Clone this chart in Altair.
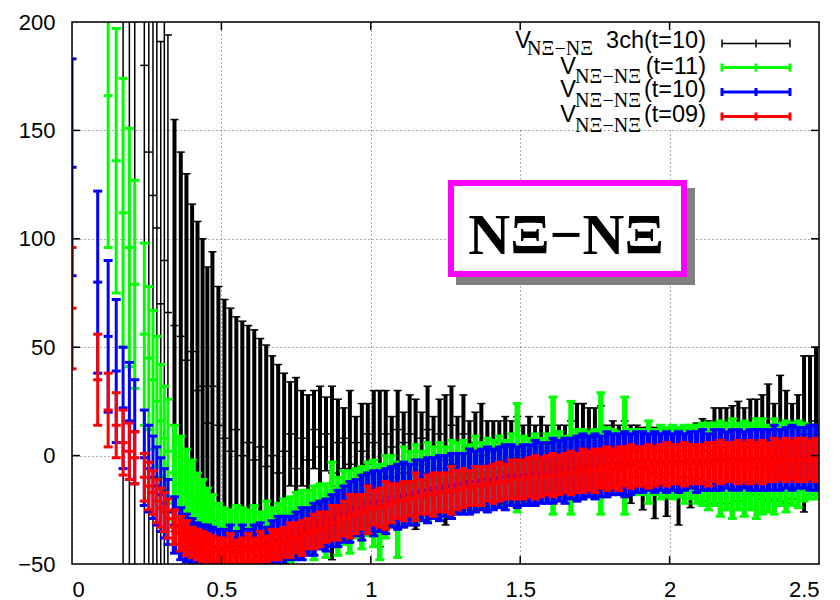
import altair as alt
import pandas as pd

# ---------------- data ----------------
X = [0, 0.086, 0.121, 0.148, 0.171, 0.192, 0.210, 0.242, 0.257, 0.271, 0.284, 0.297,
     0.309, 0.321, 0.343, 0.364, 0.383, 0.402, 0.420, 0.437, 0.453, 0.470, 0.490,
     0.51, 0.53, 0.55, 0.57, 0.59, 0.61, 0.63, 0.65, 0.67, 0.69,
     0.71, 0.73, 0.75, 0.77, 0.79, 0.81, 0.83, 0.85, 0.87, 0.89,
     0.91, 0.93, 0.95, 0.97, 0.99, 1.01, 1.03, 1.05, 1.07, 1.09,
     1.11, 1.13, 1.15, 1.17, 1.19, 1.21, 1.23, 1.25, 1.27, 1.29,
     1.31, 1.33, 1.35, 1.37, 1.39, 1.41, 1.43, 1.45, 1.47, 1.49,
     1.51, 1.53, 1.55, 1.57, 1.59, 1.61, 1.63, 1.65, 1.67, 1.69,
     1.71, 1.73, 1.75, 1.77, 1.79, 1.81, 1.83, 1.85, 1.87, 1.89,
     1.91, 1.93, 1.95, 1.97, 1.99, 2.01, 2.03, 2.05, 2.07, 2.09,
     2.11, 2.13, 2.15, 2.17, 2.19, 2.21, 2.23, 2.25, 2.27, 2.29,
     2.31, 2.33, 2.35, 2.37, 2.39, 2.41, 2.43, 2.45, 2.47, 2.49]

RED_Y = [68, 35, 21, 14, 6, 2, -1, -10, -14, -17, -21, -24, -26, -29, -33, -36, -38, -40, -41, -42, -43, -43, -44,
         -44, -43, -45, -44, -43, -44, -42, -43, -41, -41,
         -40, -39, -38, -38, -36, -35, -34, -33, -31, -31,
         -29, -28, -27, -26, -25, -24, -24, -23, -22, -21,
         -21, -20, -19, -19, -18, -18, -17, -17, -16, -16,
         -15, -15, -14, -14, -13, -13, -12, -12, -11, -11,
         -11, -10, -10, -10, -9, -9, -9, -8, -8, -8,
         -7, -7, -7, -6, -6, -6, -6, -5, -5, -5,
         -5, -5, -5, -4, -4, -4, -4, -4, -4, -4,
         -4, -4, -3, -3, -3, -3, -3, -3, -3, -3,
         -3, -3, -2, -2, -2, -2, -2, -2, -2, -2]
RED_E = [28, 21, 17, 15, 15, 13, 12, 11, 11, 10, 10, 9, 9, 9, 8, 8, 8, 7, 7, 7, 7, 6, 6,
         6, 7, 6, 6, 7, 6, 7, 6, 7, 7,
         7, 8, 7, 8, 7, 8, 8, 7, 8, 8,
         8, 10, 9, 8, 11, 8, 9, 11, 9, 8,
         9, 8, 11, 8, 9, 10, 9, 9, 11, 9,
         9, 8, 9, 9, 8, 9, 9, 8, 9, 9,
         9, 9, 10, 9, 9, 10, 9, 9, 10, 9,
         10, 9, 10, 9, 10, 9, 10, 9, 10, 9,
         9, 10, 9, 9, 10, 9, 9, 10, 9, 9,
         9, 10, 9, 10, 9, 9, 10, 9, 10, 9,
         10, 9, 10, 9, 10, 9, 10, 10, 9, 10]

BLUE_Y = [133, 80, 55, 39, 22, 16, 11, -1, -6, -10, -14, -18, -22, -26, -32, -36, -38, -40, -41, -42, -42, -42, -43,
          -43, -42, -44, -42, -43, -42, -41, -42, -40, -39,
          -39, -38, -37, -36, -35, -34, -32, -32, -30, -29,
          -27, -26, -24, -24, -22, -22, -21, -21, -19, -19,
          -18, -18, -17, -16, -16, -15, -15, -14, -14, -13,
          -13, -12, -12, -11, -11, -11, -10, -10, -9, -10,
          -9, -9, -8, -8, -8, -7, -7, -7, -6, -6,
          -5, -5, -5, -5, -4, -4, -4, -4, -4, -3,
          -3, -3, -3, -3, -3, -3, -3, -3, -2, -3,
          -2, -3, -2, -2, -2, -2, -2, -2, -2, -2,
          -2, -2, -1, -2, -1, -1, -1, -1, -1, -1]
BLUE_E = [50, 42, 35, 33, 28, 27, 24, 22, 20, 19, 18, 17, 16, 15, 13, 12, 11, 11, 10, 10, 10, 9, 9,
          9, 10, 9, 10, 9, 10, 10, 9, 10, 11,
          11, 10, 11, 12, 11, 12, 11, 12, 12, 13,
          13, 14, 13, 15, 14, 15, 14, 15, 14, 15,
          15, 14, 15, 14, 15, 14, 15, 14, 15, 14,
          14, 15, 14, 14, 15, 14, 14, 15, 14, 14,
          14, 14, 15, 14, 14, 15, 14, 15, 14, 15,
          15, 14, 15, 14, 15, 14, 14, 15, 14, 14,
          14, 13, 14, 13, 14, 13, 14, 13, 13, 14,
          14, 13, 14, 14, 13, 14, 14, 13, 14, 14,
          14, 14, 15, 14, 14, 15, 14, 14, 15, 15]

GREEN_Y = [None, None, 166, 136, 112, 96, 79, 56, 45, 35, 25, 16, 8, 2, -8, -13, -18, -22, -26, -28, -31, -33, -35,
           -36, -38, -35, -38, -37, -36, -38, -34, -36, -35,
           -33, -34, -31, -32, -30, -31, -28, -30, -20, -28,
           -24, -26, -22, -24, -20, -22, -26, -19, -16, -25,
           -14, -15, -13, -14, -12, -12, -11, -12, -10, -10,
           -9, -10, -8, -9, -8, -8, -7, -8, -6, -1,
           -6, -6, -5, -6, -5, 0, -4, -5, -1, -4,
           -4, -3, -3, 1, -3, -3, -3, 0, -2, -3,
           -3, -3, -3, -3, -3, -3, -3, -4, -3, -4,
           -4, -5, -4, -6, -5, -6, -5, -6, -5, -6,
           -5, -6, -5, -4, -5, -4, -4, -3, -3, -3]
GREEN_E = [None, None, 70, 61, 62, 55, 48, 42, 33, 32, 30, 26, 24, 24, 22, 22, 21, 20, 18, 17, 16, 15, 13,
           12, 13, 12, 14, 12, 13, 12, 13, 12, 13,
           13, 15, 14, 16, 14, 17, 15, 17, 17, 18,
           17, 19, 16, 19, 17, 20, 22, 19, 16, 22,
           18, 17, 18, 16, 18, 16, 17, 16, 17, 16,
           16, 15, 17, 15, 16, 15, 16, 15, 16, 25,
           15, 14, 15, 14, 15, 27, 15, 14, 26, 16,
           16, 14, 15, 28, 16, 15, 14, 27, 14, 15,
           15, 19, 15, 17, 16, 17, 16, 18, 17, 18,
           19, 20, 19, 22, 20, 23, 20, 22, 20, 23,
           22, 20, 22, 19, 21, 19, 20, 18, 17, 17]

BLACK_Y = [None, None, None, None, 250, 230, 200, 180, 140, 120, 105, 70, 90, 66, 60, 55, 44, 48, 30, 32, 15, 32, 14,
           8, 2, 12, 0, 6, -2, 4, -5, 0, -8,
           2, 10, -6, 8, -2, 12, 4, 10, -8, 6,
           8, -4, 6, 2, 10, 6, -6, 10, 4, 12,
           6, 10, -4, 8, 12, 4, 10, -2, 14, 6,
           10, 4, 6, 0, 4, 2, 6, -2, 4, 0,
           2, -2, 4, 0, 2, -4, 2, 4, 2, 6,
           4, 8, 2, 6, 2, 0, 4, 2, -4, 2,
           -6, 2, -8, 2, -8, 0, -10, 2, -6, 2,
           -2, 2, 0, 4, 0, 4, 2, 4, 4, 4,
           4, 6, 2, 8, 4, 2, 6, 10, 14, 16]
BLACK_E = [None, None, None, None, 400, 380, 330, 300, 250, 220, 200, 121, 160, 128, 95, 85, 86, 68, 78, 68, 72, 62, 64,
           64, 66, 52, 62, 54, 60, 50, 56, 46, 50,
           36, 24, 42, 22, 30, 18, 28, 17, 40, 20,
           14, 34, 12, 22, 14, 24, 36, 20, 14, 18,
           14, 18, 30, 12, 20, 14, 16, 30, 18, 12,
           18, 12, 14, 24, 12, 14, 10, 20, 12, 18,
           12, 20, 10, 18, 12, 14, 12, 10, 14, 18,
           20, 14, 20, 17, 12, 16, 10, 14, 18, 12,
           19, 11, 21, 12, 20, 13, 22, 12, 18, 13,
           19, 14, 22, 18, 22, 19, 23, 18, 22, 22,
           24, 27, 22, 29, 26, 22, 22, 36, 32, 34]

X_TICKS = [0, 0.5, 1, 1.5, 2, 2.5]
Y_TICKS = [-50, 0, 50, 100, 150, 200]
INNER_X_TICKS = [0.5, 1, 1.5, 2]
INNER_Y_TICKS = [0, 50, 100, 150]

SERIES_KEYS = ["3ch10", "t11", "t10", "t09"]
LEGEND_MAIN = ["3ch(t=10)", "(t=11)", "(t=10)", "(t=09)"]
LEGEND_SUB = "N\u039e\u2212N\u039e"
BOX_LABEL = "N\u039e\u2212N\u039e"

# ---------------- build table ----------------
rows = []
for key, ys, es in zip(SERIES_KEYS, [BLACK_Y, GREEN_Y, BLUE_Y, RED_Y], [BLACK_E, GREEN_E, BLUE_E, RED_E]):
    for x, y, e in zip(X, ys, es):
        if y is None:
            continue
        rows.append({"series": key, "x": x, "y": y, "err": e})
df = pd.DataFrame(rows)

COLORS = {"3ch10": "#000000", "t11": "#00ff00", "t10": "#0000ff", "t09": "#ff0000"}
LW = {"3ch10": 1.5, "t11": 3, "t10": 3, "t09": 3}
LW_DENSE = {"3ch10": 4, "t11": 5.5, "t10": 5.5, "t09": 5.5}
CAP = {"3ch10": 8, "t11": 9, "t10": 9, "t09": 9}
DENSE_FROM = 0.33

W, H = 747, 542
xscale = alt.Scale(domain=[0, 2.5], nice=False, zero=False)
yscale = alt.Scale(domain=[-50, 200], nice=False, zero=False)
xaxis = alt.Axis(values=X_TICKS, format=".1~f", grid=True, ticks=False, tickSize=0, domain=False,
                 labelPadding=15, title=None)
yaxis = alt.Axis(values=Y_TICKS, grid=True, ticks=False, tickSize=0, domain=False,
                 labelPadding=17, title=None)

layers = []
for key in SERIES_KEYS:
    base = (alt.Chart(df)
            .transform_filter(alt.datum.series == key)
            .transform_calculate(lo="datum.y - datum.err", hi="datum.y + datum.err"))
    enc = dict(x=alt.X("x:Q", scale=xscale, axis=xaxis),
               y=alt.Y("lo:Q", scale=yscale, axis=yaxis),
               y2=alt.Y2("hi"))
    sparse = (base.transform_filter(alt.datum.x < DENSE_FROM)
              .mark_rule(clip=True, color=COLORS[key], strokeWidth=LW[key]).encode(**enc))
    dense = (base.transform_filter(alt.datum.x >= DENSE_FROM)
             .mark_rule(clip=True, color=COLORS[key], strokeWidth=LW_DENSE[key]).encode(**enc))
    caps = (base.transform_fold(["lo", "y", "hi"], as_=["which", "v"])
            .mark_rule(clip=True, color=COLORS[key], strokeWidth=LW[key],
                       xOffset=-CAP[key] / 2, x2Offset=CAP[key] / 2)
            .encode(x=alt.X("x:Q", scale=xscale, axis=xaxis), x2=alt.X2("x"),
                    y=alt.Y("v:Q", scale=yscale, axis=yaxis)))
    layers += [sparse, dense, caps]

one = pd.DataFrame({"k": [0]})

# legend (opaque white key)
layers.append(alt.Chart(one).mark_rect(fill="white").encode(
    x=alt.value(433), x2=alt.value(W - 1), y=alt.value(1), y2=alt.value(108)))

row_line = [21.5, 45.5, 70, 94.5]
row_main = [26, 52, 75.3, 99.7]
row_sub = [33, 61.3, 85.3, 109.7]
v_right = [459, 504, 504, 504]
sub_right = [521, 569, 569, 569]
for i, key in enumerate(SERIES_KEYS):
    layers.append(alt.Chart(one).mark_text(font="Liberation Sans", fontSize=23.5, align="right",
                                           baseline="alphabetic", color="black").encode(
        x=alt.value(634), y=alt.value(row_main[i]), text=alt.value(LEGEND_MAIN[i])))
    layers.append(alt.Chart(one).mark_text(font="Liberation Serif", fontSize=20, align="right",
                                           baseline="alphabetic", color="black").encode(
        x=alt.value(sub_right[i]), y=alt.value(row_sub[i]), text=alt.value(LEGEND_SUB)))
    layers.append(alt.Chart(one).mark_text(font="Liberation Sans", fontSize=23.5, align="right",
                                           baseline="alphabetic", color="black").encode(
        x=alt.value(v_right[i]), y=alt.value(row_main[i]), text=alt.value("V")))
    ly = row_line[i]
    layers.append(alt.Chart(one).mark_rule(color=COLORS[key], strokeWidth=LW[key]).encode(
        x=alt.value(650), x2=alt.value(718), y=alt.value(ly)))
    for cx in (650, 684, 718):
        layers.append(alt.Chart(one).mark_rule(color=COLORS[key], strokeWidth=LW[key]).encode(
            x=alt.value(cx), y=alt.value(ly - 4), y2=alt.value(ly + 4)))

# boxed label with shadow
layers.append(alt.Chart(one).mark_rect(fill="#808080").encode(
    x=alt.value(384), x2=alt.value(623), y=alt.value(166), y2=alt.value(263)))
layers.append(alt.Chart(one).mark_rect(fill="white", stroke="#ff00ff", strokeWidth=6).encode(
    x=alt.value(379), x2=alt.value(612), y=alt.value(161), y2=alt.value(252)))
layers.append(alt.Chart(one).mark_text(font="Liberation Serif", fontWeight="bold", fontSize=58,
                                       align="center", baseline="alphabetic", color="black").encode(
    x=alt.value(494), y=alt.value(232), text=alt.value(BOX_LABEL)))

# inward ticks on all four sides
xt = pd.DataFrame({"v": INNER_X_TICKS})
yt = pd.DataFrame({"v": INNER_Y_TICKS})
layers.append(alt.Chart(xt).mark_rule(color="black", strokeWidth=1.5).encode(
    x=alt.X("v:Q", scale=xscale, axis=xaxis), y=alt.value(H - 8), y2=alt.value(H)))
layers.append(alt.Chart(xt).mark_rule(color="black", strokeWidth=1.5).encode(
    x=alt.X("v:Q", scale=xscale, axis=xaxis), y=alt.value(0), y2=alt.value(8)))
layers.append(alt.Chart(yt).mark_rule(color="black", strokeWidth=1.5).encode(
    y=alt.Y("v:Q", scale=yscale, axis=yaxis), x=alt.value(0), x2=alt.value(8)))
layers.append(alt.Chart(yt).mark_rule(color="black", strokeWidth=1.5).encode(
    y=alt.Y("v:Q", scale=yscale, axis=yaxis), x=alt.value(W - 8), x2=alt.value(W)))

# frame
layers.append(alt.Chart(one).mark_rect(fillOpacity=0, stroke="black", strokeWidth=1.5).encode(
    x=alt.value(0), x2=alt.value(W), y=alt.value(0), y2=alt.value(H)))

chart = (alt.layer(*layers)
         .properties(width=W, height=H,
                     autosize=alt.AutoSizeParams(type="none"),
                     padding={"left": 64, "top": 14, "right": 13, "bottom": 36})
         .configure_view(strokeWidth=0)
         .configure_axis(labelFont="Liberation Sans", labelFontSize=22, labelColor="black",
                         gridColor="#333333", gridDash=[1, 3], gridWidth=1, gridOpacity=0.8))

chart.save("out.html", embed_options={"renderer": "svg", "actions": False})
